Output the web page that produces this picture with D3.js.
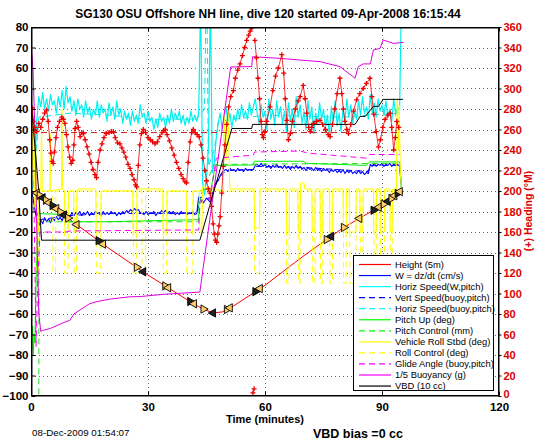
<!DOCTYPE html>
<html><head><meta charset="utf-8">
<script src="https://cdn.jsdelivr.net/npm/d3@7"></script>
<style>body{margin:0;background:#fff;} text{font-family:"Liberation Sans",Arial,Helvetica,sans-serif;}</style>
</head><body><svg id="c" width="546" height="442"></svg>
<script>
// ---------- DATA ----------
const titleText = "SG130 OSU Offshore NH line, dive 120 started 09-Apr-2008 16:15:44";
const xTicks = [0, 30, 60, 90, 120];
const leftTicks = [-100,-90,-80,-70,-60,-50,-40,-30,-20,-10,0,10,20,30,40,50,60,70,80];
const rightTicks = [0,20,40,60,80,100,120,140,160,180,200,220,240,260,280,300,320,340,360];

// Height (5m): depth/5 as negative
const heightPts = [[0.3,0],[1.5,-1],[10,-14],[20,-28],[30,-41],[40,-53],[44,-57.5],[46.7,-59.5],[49,-59],[52,-56],[60,-46],[70,-31.5],[80,-18],[90,-7],[94.6,-0.3]];
// GC markers on the height trace
const gcT = [1.5,2.2,3.0,3.8,4.6,5.5,6.5,7.5,8.5,9.5,11.7,17.3,18.5,27.1,28.8,34.4,35.2,40.8,41.8,44.2,46.7,50.2,51.0,57.5,58.7,75.8,77.0,80.2,84.2,87.8,89.2,90.4,91.5,92.4,93.2,94.0,94.6];
const gcV = [-1,-2.1,-3.3,-4.5,-5.7,-7.1,-8.6,-10.2,-11.7,-13.2,-16.4,-24.2,-25.9,-37.2,-39.4,-46.3,-47.2,-53.9,-55,-57.6,-59.5,-57.8,-57,-49.1,-47.6,-23.7,-22.1,-17.8,-13.4,-9.4,-7.9,-6.4,-5,-3.6,-2.3,-1.2,-0.3];

// noisy series sampled every 0.5 minute from t=0
const sampleStep = 0.5;
const hspeedW = [0,2,15,35,46,41,48,40,45,39,47,42,44,38,46,41,49,40,51,43,46,39,44,37,45,40,42,36,44,38,41,35,40,37,44,36,42,38,40,34,
43,37,41,35,44,37,40,33,39,35,38,32,39,34,37,33,42,36,38,33,39,34,36,30,35,31,38,34,36,31,37,33,40,34,38,35,39,33,37,32,
36,33,39,34,37,34,38,95,4,-2,6,22,95,9,14,26,33,38,30,36,41,33,38,31,37,34,40,35,42,36,39,35,43,37,41,45,38,33,42,36,
39,30,45,35,40,32,44,36,41,33,39,29,43,34,40,31,46,36,42,33,39,30,44,35,41,28,38,33,43,35,40,31,37,27,41,34,44,32,38,29,
40,34,45,36,42,33,39,35,44,37,46,38,41,35,47,38,43,36,45,39,42,37,44,36,40,34,45,37,41,39,95];
const wSpeed = [0,-3,-9,-15,-17,-14,-16,-13,-15,-13.5,-15.5,-13,-14.5,-12.5,-14,-13,-14.5,-12,-13,-11.5,-12.5,-10.5,-12,-10.5,-11.5,-10,-12,-10.5,-11.5,-10,
-12,-10.5,-11.5,-10,-11,-10.5,-12,-10,-11.5,-10.5,-11.5,-10,-11,-10.5,-12,-10.5,-11.5,-10,-11,-9.5,-10.5,-9,-10,-8.5,-9.5,-9,-10.5,-11,-11.5,-10,
-11.5,-10.5,-11,-10,-12,-10.5,-11,-9.5,-10.5,-9.5,-11,-10,-11,-10,-11.5,-10.5,-11.5,-10,-11,-10.5,-11.5,-10.5,-11,-10,-11.5,-11,-3,-4,-6,-5,
-3.5,-4.5,-5.5,-2,2,4.5,5,7.5,9,10,10.5,9.5,11,10,10.5,9.5,11,10,10.5,9.5,11,10,10.5,10,10.5,12.5,13,12,13.5,12,
13,11.5,12.5,11,12.5,11.5,13,11.5,12,11,12.5,11,12,10.5,12,11,12.5,11,12,10.5,11.5,10,11.5,10.5,11,10,11.5,10,11,9.5,
11,10,10.5,9,10.5,9.5,10.5,9,10,9,10.5,8.5,10,9,10,8.5,9.5,8.5,10,8.5,9.5,8,9,8.5,13,12,13.5,12,13,12.5,
13.5,12,13,12.5,13.5,12,13,12.5,13,12,2];

const vspeedBuoy = [[0,0],[2,-14],[10,-12],[20,-11],[30,-11],[42.5,-11],[43.5,-3],[46,-4],[48,6],[50,10],[57,10.5],[57.5,12],[70,11.5],[86.5,9.5],[87,12.5],[94.5,12.5]];
const hspeedBuoy = [[1,10],[2,36],[10,38],[20,37],[30,35],[42.5,35],[44.5,40],[44.9,95],[45.1,95],[45.5,12],[47,20],[48,34],[60,37],[80,36],[94.5,38]];
const pitchUp = [[0,-65],[0.2,-78],[0.4,-66],[0.6,-80],[0.8,-70],[1.0,-74],[1.3,-45],[1.6,-20],[2,-11],[9,-11.5],[9.5,-15],[20,-15],[30,-14.5],[43,-14],[43.2,0],[45,1],[46,-1],[47,10],[47.5,12.5],[57,12.7],[57.3,14.5],[70,14.5],[70.5,13.5],[86,12.5],[86.8,14.2],[94.5,14.2],[95,1]];
const pitchCtl = [[0,-110],[2,-110],[2.05,-15],[43,-15],[43.5,-2],[47,13],[94.5,13.5],[95,0]];
const rollStbd = [[0,0],[0.15,38],[0.3,12],[0.45,40],[0.6,5],[0.8,30],[1.0,-8],[1.2,22],[1.4,0],[1.6,-20],[1.9,-20],[2.1,0],[2.5,1],[2.7,34],[2.9,0],[4.8,0],[4.9,28],[5.1,0],[7.8,1],[7.9,40],[8.1,1],[8.6,0],[8.7,-20],[9.5,-20],[9.6,0],[10.9,0],[11.0,-20],[11.7,-20],[11.8,1],[16.6,1],[16.7,-20],[17.9,-20],[18.0,0],[26.1,0],[26.2,-20],[27.1,-20],[27.2,1],[33.8,1],[33.9,-20],[34.8,-20],[34.9,0],[39.8,0],[39.9,-20],[41.5,-20],[41.6,0],[43.2,0],[43.3,-20],[43.8,-20],[44.0,2],[49.3,0],[49.5,38],[50,15],[50.5,40],[51,1],
[57.2,1],[57.3,-18],[58.6,-18],[58.7,1],[65.4,1],[65.5,-20],[66.2,-20],[66.3,1],[68.4,1],[68.5,-20],[69.0,-20],[69.1,4],[70,4],[70.2,1],[72.0,1],[72.1,-20],[72.8,-20],[72.9,1],[74.1,1],[74.2,-20],[74.8,-20],[74.9,1],[76.5,1],[76.6,-20],[77.3,-20],[77.4,1],[80.0,1],[80.1,-20],[80.8,-20],[80.9,1],[81.6,1],[81.7,-20],[83.3,-20],[83.4,1],[84.3,1],[84.4,-20],[85.1,-20],[85.2,1],[87.8,1],[87.9,-20],[88.5,-20],[88.6,1],[89.5,1],[89.6,-20],[90.6,-20],[90.7,1],[92.0,1],[92.1,-20],[92.6,-20],[92.7,1],[93.7,1],[93.9,45],[94.2,20],[94.4,42],[94.7,10],[95,0]];
const rollCtl = [[0,0],[1.5,0],[1.55,-40],[2.0,-40],[2.05,0],[5.6,0],[5.65,-40],[6.3,-40],[6.35,0],[8.6,0],[8.65,-40],[9.5,-40],[9.55,0],[11.0,0],[11.05,-40],[11.7,-40],[11.75,0],[16.7,0],[16.75,-40],[17.9,-40],[17.95,0],[26.2,0],[26.25,-40],[27.1,-40],[27.15,0],[28.4,0],[28.45,-40],[29.3,-40],[29.35,0],[33.9,0],[33.95,-40],[34.8,-40],[34.85,0],[39.9,0],[39.95,-40],[41.5,-40],[41.55,0],
[57.3,0],[57.35,-40],[58.6,-40],[58.65,0],[65.5,0],[65.55,-45],[66.2,-45],[66.25,0],[68.5,0],[68.55,-45],[69.0,-45],[69.05,0],[72.1,0],[72.15,-45],[72.8,-45],[72.85,0],[74.2,0],[74.25,-45],[74.8,-45],[74.85,0],[76.6,0],[76.65,-45],[77.3,-45],[77.35,0],[80.1,0],[80.15,-45],[80.8,-45],[80.85,0],[81.7,0],[81.75,-45],[83.3,-45],[83.35,0],[84.4,0],[84.45,-45],[85.1,-45],[85.15,0],[87.9,0],[87.95,-45],[88.5,-45],[88.55,0],[89.6,0],[89.65,-45],[90.6,-45],[90.65,0],[92.1,0],[92.15,-45],[92.6,-45],[92.65,0],[95,0]];
const glideAngle = [[0,-3],[0.8,-10],[1.3,-76],[1.7,-45],[2.3,-20],[9,-20],[10,-19.5],[43,-19],[43.3,-5],[46,-3],[47.5,16],[57,17.5],[57.3,19],[69,19.5],[71,18.5],[86,16],[86.8,17.8],[94.5,17.8]];
const buoyancy = [[0,72],[0.5,60],[1,30],[1.5,-20],[2,-60],[2.5,-68.5],[3,-68],[5,-67],[8,-64.5],[10,-63],[11,-60],[12.6,-58],[15,-55],[16.8,-54],[20.3,-52.7],[25.4,-51.6],[28,-51.5],[33.9,-50.4],[43.3,-49.3],[51.2,60.5],[56.6,60.7],[56.8,65.5],[63.8,64.7],[74.1,63.1],[79.2,60.7],[83.1,55],[83.9,60.7],[85.2,62],[87,62],[87.8,68.8],[89.5,69.6],[90.3,73.7],[92.9,72],[95.5,72.5]];
const vbd = [[0,44],[1.9,2],[2.7,-24],[43.3,-24],[51.5,30.5],[56.6,30.5],[56.8,32.5],[83.1,32.5],[84.4,36.4],[85.7,36.4],[87.8,41.3],[89.1,41.3],[90.3,44.7],[95.4,44.7]];
// heading (right axis, degrees magnetic) and target heading
const headingPts = [[0,272],[0.3,281],[0.6,268],[1.0,262],[1.5,258],[2.0,266],[2.5,262],[3.0,270],[3.5,276],[4.0,279],[4.4,268],[4.8,250],[5.1,237],[5.4,229],[5.7,227],[6.0,238],[6.4,252],[6.8,262],[7.3,268],[7.9,272],[8.3,270],[8.7,266],[9.1,255],[9.5,243],[9.9,233],[10.3,227],[10.7,230],[11.0,245],[11.3,261],[11.7,268],[12.1,262],[12.6,253],[13.0,257],[13.4,256],[13.9,250],[14.4,243],[14.9,236],[15.4,228],[15.9,221],[16.4,216],[16.8,213],[17.2,228],[17.7,240],[18.2,246],[18.7,252],[19.3,256],[20.0,257],[20.6,258],[21.1,258],[21.6,252],[22.2,247],[22.8,246],[23.3,242],[23.8,238],[24.3,233],[24.9,226],[25.4,222],[25.9,216],[26.4,211],[26.8,206],[27.1,204],[27.5,225],[27.9,245],[28.3,256],[28.8,260],[29.4,257],[30.0,252],[30.6,250],[31.2,248],[31.8,246],[32.4,248],[33.0,253],[33.6,257],[34.0,259],[34.4,260],[34.9,255],[35.5,249],[36.1,242],[36.7,235],[37.3,228],[37.9,222],[38.5,216],[39.0,212],[39.5,209],[39.9,208],[40.3,228],[40.8,248],[41.2,257],[41.6,260],[42.1,257],[42.6,255],[43.1,253],[43.6,245],[44.1,232],[44.6,220],[45.0,210],[45.5,202],[45.9,198],[46.3,185],[46.7,168],[47.0,158],[47.3,152],[47.6,150],[47.9,158],[48.2,166],[48.5,175],[48.9,198],[49.3,224],[49.7,245],[50.2,265],[50.7,282],[51.2,292],[51.9,298],[52.4,310],[53.0,318],[53.6,324],[54.2,332],[54.8,340],[55.3,347],[55.8,352],[56.2,356],[56.6,359],[56.9,3],[57.2,7],[57.4,347],[57.8,330],[58.2,310],[58.6,290],[59.0,268],[59.3,255],[59.6,252],[60.0,258],[60.4,268],[61.3,282],[62.0,298],[62.7,312],[63.4,320],[64.3,333],[64.8,315],[65.2,290],[65.6,269],[66.0,250],[66.5,256],[67.0,268],[67.8,280],[68.5,288],[69.0,292],[69.8,303],[70.3,290],[70.7,276],[71.2,262],[71.6,258],[72.0,262],[72.4,266],[73.2,268],[74.1,269],[74.8,265],[75.5,260],[76.2,255],[76.7,253],[77.3,265],[77.9,280],[78.5,295],[79.2,310],[79.7,295],[80.1,280],[80.5,268],[81.0,260],[81.4,256],[82.0,265],[82.7,278],[83.5,289],[84.3,295],[85.2,300],[86.0,305],[86.9,310],[87.4,292],[87.9,275],[88.5,258],[89.1,243],[89.6,250],[90.2,262],[90.8,270],[91.5,274],[92.1,276],[92.5,262],[93.0,240],[93.4,252],[93.8,268],[94.3,262]];
const headingTarget = [[0,257],[95.5,257]];

const legendLabels = ["Height (5m)","W = dz/dt (cm/s)","Horiz Speed(W,pitch)","Vert Speed(buoy,pitch)","Horiz Speed(buoy,pitch)","Pitch Up (deg)","Pitch Control (mm)","Vehicle Roll Stbd (deg)","Roll Control (deg)","Glide Angle (buoy,pitch)","1/5 Buoyancy (g)","VBD (10 cc)"];
const legendColors = ["#ff0000","#0000ff","#00ffff","#0000ff","#00ffff","#00ff00","#00ff00","#ffff00","#ffff00","#ff00ff","#ff00ff","#000000"];
const legendDashed = [false,false,false,true,true,false,true,false,true,true,false,false];

// ---------- CHART ----------
const svg = d3.select('#c');
const L = 31, R = 499, T = 27, B = 396;
const x = d3.scaleLinear().domain([0,120]).range([L,R]);
const yL = d3.scaleLinear().domain([-100,80]).range([B,T]);
const yR = d3.scaleLinear().domain([0,360]).range([B,T]);
const px = v => Math.round(v) + 0.5;

svg.append('defs').append('clipPath').attr('id','pc')
  .append('rect').attr('x',L).attr('y',T).attr('width',R-L).attr('height',B-T);

// grid
const grid = svg.append('g');
leftTicks.filter(v => v > -100 && v < 80).forEach(v => {
  grid.append('line').attr('x1',L).attr('x2',R).attr('y1',px(yL(v))).attr('y2',px(yL(v)))
    .attr('stroke','#444').attr('stroke-width',0.8).attr('stroke-dasharray','1,3');
});
xTicks.filter(v => v > 0 && v < 120).forEach(v => {
  grid.append('line').attr('y1',T).attr('y2',B).attr('x1',px(x(v))).attr('x2',px(x(v)))
    .attr('stroke','#444').attr('stroke-width',0.8).attr('stroke-dasharray','1,3');
});

const data = svg.append('g').attr('clip-path','url(#pc)');
const lineL = d3.line().x(d => x(d[0])).y(d => yL(d[1]));
const lineR = d3.line().x(d => x(d[0])).y(d => yR(d[1]));
function draw(pts, color, dashed, w, gen) {
  data.append('path').attr('d', (gen || lineL)(pts)).attr('fill','none')
    .attr('stroke', color).attr('stroke-width', w || 1)
    .attr('stroke-dasharray', dashed ? '6,4' : null)
    .attr('stroke-linejoin','round');
}
const sampled = arr => arr.map((v,i) => [i*sampleStep, v]);

draw(heightPts, '#ff0000', false, 1);
draw(vspeedBuoy, '#0000ff', true, 1);
draw(hspeedBuoy, '#00e5e5', true, 1);
draw(sampled(hspeedW), '#00f0f0', false, 1.2);
draw(sampled(wSpeed), '#0000ff', false, 1.1);
draw(pitchCtl, '#22dd22', true, 1);
draw(pitchUp, '#00ee00', false, 1);
draw(rollCtl, '#ffff00', true, 1);
draw(rollStbd, '#ffff00', false, 1);
draw(glideAngle, '#ff00ff', true, 1);
draw(buoyancy, '#e000e0', false, 1);
draw(vbd, '#000000', false, 1);

// GC markers (triangles)
const tri = d3.symbol().type(d3.symbolTriangle).size(30);
gcT.forEach((t,i) => {
  data.append('path').attr('d', tri())
    .attr('transform', `translate(${x(t)},${yL(gcV[i])}) rotate(${i%2 ? 90 : -90})`)
    .attr('fill', i%3===2 ? '#222' : '#ffcc66').attr('stroke','#000').attr('stroke-width',0.9);
});

// heading (right axis)
draw(headingTarget, '#c02020', true, 1, lineR);
const segs = [];
let cur = [headingPts[0]];
for (let i = 1; i < headingPts.length; i++) {
  if (Math.abs(headingPts[i][1] - headingPts[i-1][1]) > 100) { segs.push(cur); cur = []; }
  cur.push(headingPts[i]);
}
segs.push(cur);
segs.forEach(s => draw(s, '#ee0000', false, 0.8, lineR));
headingPts.forEach(d => {
  const cx = x(d[0]), cy = yR(d[1]);
  data.append('path').attr('d', `M${cx-2.5},${cy}H${cx+2.5}M${cx},${cy-2.5}V${cy+2.5}`)
    .attr('stroke','#ee0000').attr('stroke-width',1.3);
});

// frame
svg.append('rect').attr('x',L+0.5).attr('y',T+0.5).attr('width',R-L-1).attr('height',B-T-1)
  .attr('fill','none').attr('stroke','#000').attr('stroke-width',1);

// axes
const fmt = d => d < 0 ? '\u2212' + Math.abs(d) : String(d);
const axL = svg.append('g').attr('transform',`translate(${L+0.5},0)`)
  .call(d3.axisLeft(yL).tickValues(leftTicks).tickSizeInner(-4).tickSizeOuter(0).tickPadding(3).tickFormat(fmt));
const axR = svg.append('g').attr('transform',`translate(${R-0.5},0)`)
  .call(d3.axisRight(yR).tickValues(rightTicks).tickSizeInner(3).tickSizeOuter(0).tickPadding(2));
const axB = svg.append('g').attr('transform',`translate(0,${B-0.5})`)
  .call(d3.axisBottom(x).tickValues(xTicks).tickSizeInner(-4).tickSizeOuter(0).tickPadding(7));
const axT = svg.append('g').attr('transform',`translate(0,${T+0.5})`)
  .call(d3.axisTop(x).tickValues(xTicks).tickSizeInner(-4).tickSizeOuter(0).tickFormat(''));
[axL, axR, axB, axT].forEach(a => a.select('.domain').attr('stroke','#000'));
[axL, axB].forEach(a => a.selectAll('text').attr('font-size',11.5).attr('font-weight','bold').attr('fill','#000')
  .attr('font-family','"Liberation Sans",Arial,sans-serif'));
axR.selectAll('text').attr('font-size',11).attr('font-weight','bold').attr('fill','#dd0000')
  .attr('font-family','"Liberation Sans",Arial,sans-serif');
// keep the bottom "0" of the right axis clear of the "120" label
axR.selectAll('.tick').filter(d => d === 0).select('text').attr('dy','0.1em');
axR.selectAll('.tick line').attr('stroke','#000');

// titles
svg.append('text').attr('x',268).attr('y',18).attr('text-anchor','middle')
  .attr('font-size',12).attr('font-weight','bold').text(titleText);
svg.append('text').attr('x',265).attr('y',423).attr('text-anchor','middle')
  .attr('font-size',11).attr('font-weight','bold').text('Time (minutes)');
svg.append('text').attr('x',313).attr('y',438)
  .attr('font-size',12.5).attr('font-weight','bold').text('VBD bias =0 cc');
svg.append('text').attr('x',32).attr('y',436)
  .attr('font-size',9.8).text('08-Dec-2009 01:54:07');
svg.append('text').attr('transform','translate(532,211) rotate(-90)').attr('text-anchor','middle')
  .attr('font-size',10.5).attr('font-weight','bold').attr('fill','#dd0000').text('(+) Heading (\u00B0M)');

// legend
const lg = svg.append('g');
lg.append('rect').attr('x',353.5).attr('y',255.5).attr('width',140).attr('height',135)
  .attr('fill','#fff').attr('stroke','#000').attr('stroke-width',1);
legendLabels.forEach((lab,i) => {
  const yy = 264.5 + i*11.05;
  lg.append('line').attr('x1',359).attr('x2',391).attr('y1',yy).attr('y2',yy)
    .attr('stroke',legendColors[i]).attr('stroke-width',1.2)
    .attr('stroke-dasharray', legendDashed[i] ? '6,4' : null);
  lg.append('text').attr('x',395).attr('y',yy).attr('dy','0.35em')
    .attr('font-size',9.4).text(lab);
});
</script>
</body></html>
